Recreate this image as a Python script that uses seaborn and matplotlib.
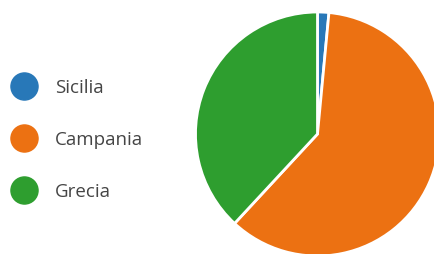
import matplotlib
matplotlib.use("Agg")
import matplotlib.pyplot as plt
import seaborn as sns
from matplotlib.lines import Line2D

# data
regions = ["Sicilia", "Campania", "Grecia"]
shares = [1.5, 60.4, 38.1]
colors = ["#2878b8", "#ec7112", "#2e9e2f"]

sns.set_theme(style="white")
plt.rcParams["font.family"] = ["Open Sans", "DejaVu Sans"]

fig = plt.figure(figsize=(4.35, 2.55), dpi=100)
ax = fig.add_axes([0, 0, 1, 1])

# pie centred at (317, 120 from bottom), radius 122 px
r = 122.0
cx, cy = 317.5, 120.0
ax.pie(shares, colors=colors, startangle=90, counterclock=False,
       radius=1.0, wedgeprops=dict(edgecolor="white", linewidth=2))
ax.set_xlim(-cx / r, (435 - cx) / r)
ax.set_ylim(-cy / r, (255 - cy) / r)
ax.set_aspect("auto")
ax.axis("off")

handles = [Line2D([], [], marker="o", linestyle="", markersize=19.5,
                  markerfacecolor=c, markeredgecolor=c) for c in colors]
leg = fig.legend(handles, regions, loc="center left",
                 bbox_to_anchor=(0.003, 0.45), frameon=False,
                 fontsize=13.5, labelspacing=1.82, handletextpad=1.05,
                 borderaxespad=0.2, handlelength=1.2)
for t in leg.get_texts():
    t.set_color("#454545")

fig.savefig("out.png", dpi=100)
